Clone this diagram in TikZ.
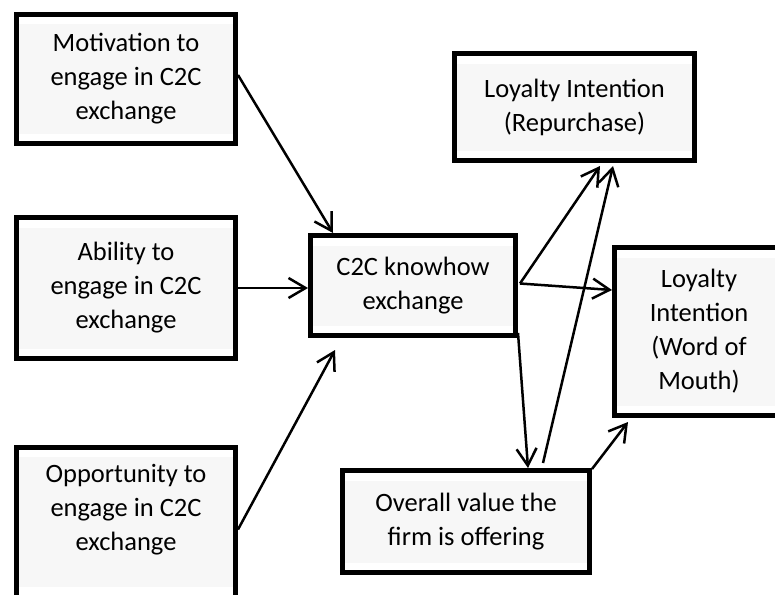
\documentclass[tikz,border=0pt]{standalone}
\usepackage{fontspec}
\setmainfont{Carlito}
\usetikzlibrary{arrows.meta}
\definecolor{boxgrey}{HTML}{F7F7F7}
\begin{document}
\begin{tikzpicture}[x=1pt,y=-1pt,
  label font/.style={font=\fontsize{26.5}{34}\selectfont},
  box/.style={draw=black, line width=5pt, fill=white, inner sep=0pt,
    align=center, label font, line join=miter,
    path picture={\fill[boxgrey]
      ([yshift=-10pt]path picture bounding box.north west) rectangle
      ([yshift=10pt]path picture bounding box.south east);}},
  txt/.style={inner sep=0pt, align=center, label font},
  link/.style={line width=2.5pt, -{Straight Barb[length=17pt,width=20pt]}}
]
\useasboundingbox (0,0) rectangle (775,594);

% antecedents
\node[box, minimum width=219pt, minimum height=129pt] (mot) at (126,79)
  {Motivation to\\engage in C2C\\exchange};
\node[box, minimum width=219pt, minimum height=141pt] (abl) at (126,288)
  {Ability to\\engage in C2C\\exchange};
\node[box, minimum width=219pt, minimum height=150pt] (opp) at (126,522) {};
\node[txt] (opptext) at (126,510) {Opportunity to\\engage in C2C\\exchange};

% mediator and value
\node[box, minimum width=205pt, minimum height=100pt] (c2c) at (413,285.5)
  {C2C knowhow\\exchange};
\node[box, minimum width=247pt, minimum height=102pt] (val) at (466,521.5)
  {Overall value the\\firm is offering};

% outcomes
\node[box, minimum width=240pt, minimum height=107pt] (rep) at (574.5,107)
  {Loyalty Intention\\(Repurchase)};
\node[box, minimum width=169pt, minimum height=168pt] (wom) at (699,331.5)
  {Loyalty\\Intention\\(Word of\\Mouth)};

% paths
\draw[link] ([yshift=4pt]mot.east) -- ([xshift=25pt]c2c.north west);
\draw[link] (abl.east) -- (abl.east -| c2c.west);
\draw[link] ([yshift=-85pt]opp.north east) -- ([xshift=27pt,yshift=-12pt]c2c.south west);
\draw[link] ([xshift=2pt,yshift=2pt]c2c.east) -- ([xshift=148pt,yshift=-3pt]rep.south west);
\draw[link] ([xshift=2pt,yshift=2pt]c2c.east) -- ([yshift=41.5pt]wom.west);
\draw[link] ([xshift=0pt,yshift=5pt]c2c.south east) -- ([xshift=188pt]val.north west);
\draw[link] ([xshift=203pt,yshift=5pt]val.north west) -- ([xshift=161pt,yshift=-3pt]rep.south west);
\draw[link] ([yshift=-1pt]val.north east) -- ([xshift=16pt,yshift=-4pt]wom.south west);
\end{tikzpicture}
\end{document}
